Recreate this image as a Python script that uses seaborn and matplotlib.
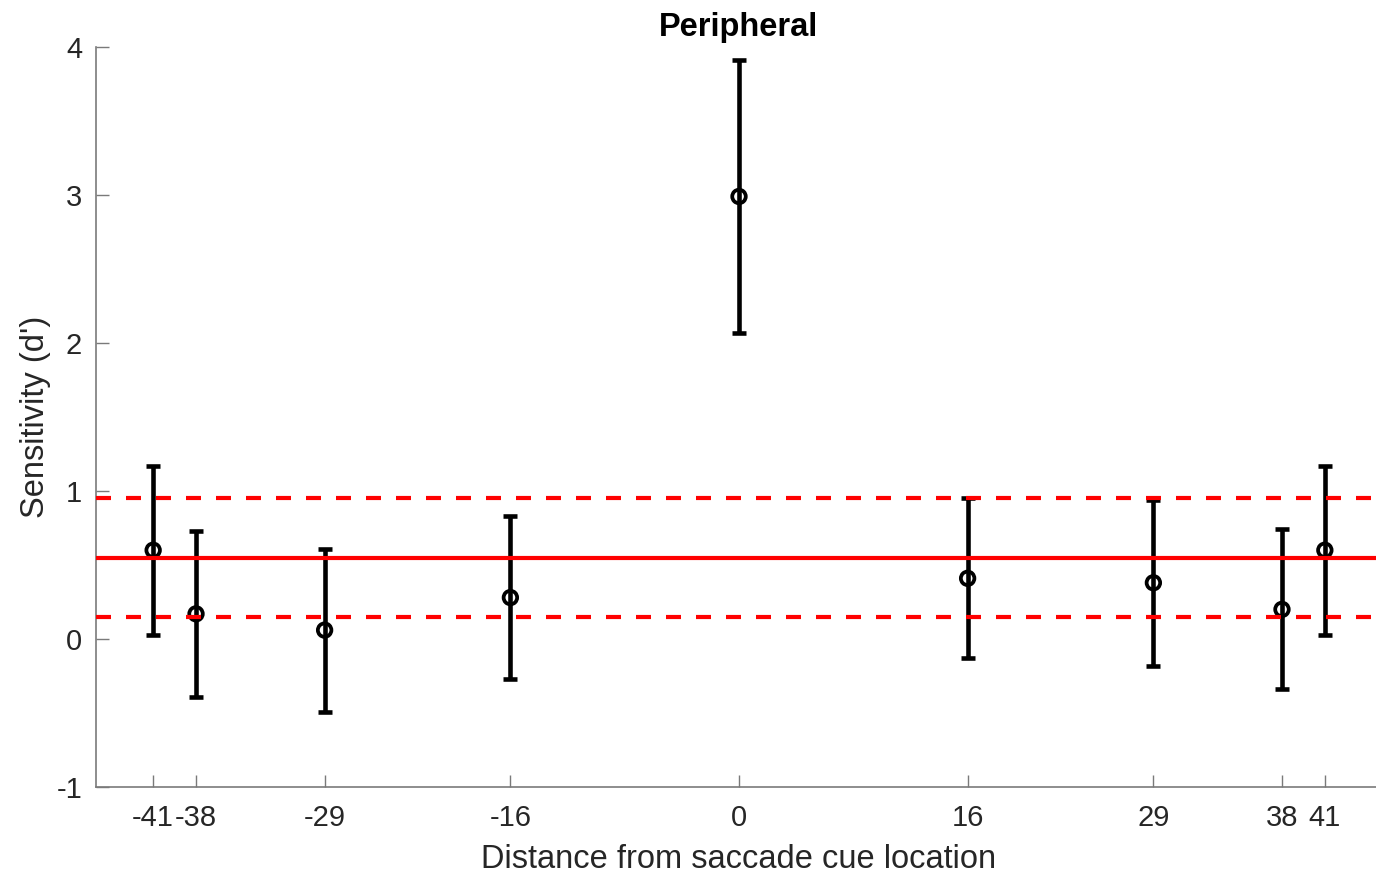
import numpy as np
import pandas as pd
import seaborn as sns
import matplotlib.pyplot as plt

# distance from saccade cue location and sensitivity (d') with error half-widths
distance = [-41, -38, -29, -16, 0, 16, 29, 38, 41]
dprime = [0.60, 0.17, 0.06, 0.28, 2.99, 0.41, 0.38, 0.20, 0.60]
err = [0.57, 0.56, 0.55, 0.55, 0.92, 0.54, 0.56, 0.54, 0.57]

baseline_mean = 0.55
baseline_lo = 0.15
baseline_hi = 0.95

xticks = [-41, -38, -29, -16, 0, 16, 29, 38, 41]
yticks = [-1, 0, 1, 2, 3, 4]

sns.set_style("ticks")
plt.rcParams['font.family'] = ['Liberation Sans', 'DejaVu Sans']

df = pd.DataFrame({"distance": distance, "dprime": dprime, "err": err})

fig = plt.figure(figsize=(13.76, 8.76), dpi=100)
ax = fig.add_axes([96 / 1376, 89 / 876, (1382 - 96) / 1376, 740 / 876])

# error bars
ax.errorbar(df["distance"], df["dprime"], yerr=df["err"], fmt="none",
            ecolor="black", elinewidth=3.3, capsize=4.8, capthick=3.3, zorder=2)

# open circle markers
sns.scatterplot(ax=ax, data=df, x="distance", y="dprime", marker="o", s=95,
                color="black", linewidth=2.7, zorder=3, legend=False)
ax.collections[-1].set_facecolor("none")
ax.collections[-1].set_edgecolor("black")

# baseline lines
ax.axhline(baseline_mean, color="#ff0000", lw=3, zorder=4)
ax.axhline(baseline_hi, color="#ff0000", lw=3, ls=(0, (3.6, 3.6)), zorder=4)
ax.axhline(baseline_lo, color="#ff0000", lw=3, ls=(0, (3.6, 3.6)), zorder=4)

ax.set_xlim(-45, 45)
ax.set_ylim(-1, 4)
ax.set_xticks(xticks)
ax.set_xticklabels([str(t) for t in xticks])
ax.set_yticks(yticks)
ax.set_yticklabels([str(t) for t in yticks])

for side in ["top", "right"]:
    ax.spines[side].set_visible(False)
for side in ["left", "bottom"]:
    ax.spines[side].set_color("#7a7a7a")
    ax.spines[side].set_linewidth(1.2)

ax.tick_params(axis="both", direction="in", length=9, width=1, color="#7a7a7a",
               labelsize=21, labelcolor="#262626")
ax.tick_params(axis="x", pad=12)
ax.tick_params(axis="y", pad=10)

ax.set_xlabel("Distance from saccade cue location", fontsize=23.5, color="#262626", labelpad=9)
ax.set_ylabel("Sensitivity (d')", fontsize=23.5, color="#262626", labelpad=4)
ax.set_title("Peripheral", fontsize=23.5, fontweight="bold", color="black", pad=8)

fig.savefig("out.png", dpi=100)
